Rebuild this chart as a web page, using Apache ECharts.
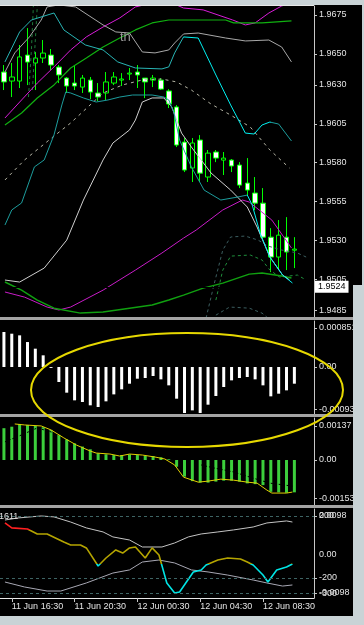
<!DOCTYPE html>
<html lang="en">
<head>
<meta charset="UTF-8">
<title>M30 chart</title>
<script src="https://cdn.jsdelivr.net/npm/echarts/dist/echarts.min.js"></script>
<style>
  html, body { margin: 0; padding: 0; background: #000; }
  #chart { width: 364px; height: 625px; }
</style>
</head>
<body>
<div id="chart"></div>
<script>
// bar times (two empty slots on the right = chart shift)
const times = ['11 Jun 16:00','11 Jun 16:30','11 Jun 17:00','11 Jun 17:30','11 Jun 18:00','11 Jun 18:30','11 Jun 19:00','11 Jun 19:30',
  '11 Jun 20:00','11 Jun 20:30','11 Jun 21:00','11 Jun 21:30','11 Jun 22:00','11 Jun 22:30','11 Jun 23:00','11 Jun 23:30',
  '12 Jun 00:00','12 Jun 00:30','12 Jun 01:00','12 Jun 01:30','12 Jun 02:00','12 Jun 02:30','12 Jun 03:00','12 Jun 03:30',
  '12 Jun 04:00','12 Jun 04:30','12 Jun 05:00','12 Jun 05:30','12 Jun 06:00','12 Jun 06:30','12 Jun 07:00','12 Jun 07:30',
  '12 Jun 08:00','12 Jun 08:30','12 Jun 09:00','12 Jun 09:30','12 Jun 10:00','12 Jun 10:30','12 Jun 11:00','12 Jun 11:30'];

// [open, close, low, high]
const ohlc = [
  [1.96383,1.96319,1.96267,1.96428],[1.96325,1.96351,1.96222,1.96441],[1.96325,1.96480,1.96280,1.96557],[1.96492,1.96447,1.96299,1.96666],
  [1.96441,1.96473,1.96267,1.96512],[1.96473,1.96505,1.96441,1.96589],[1.96492,1.96428,1.96396,1.96531],[1.96415,1.96364,1.96312,1.96428],
  [1.96344,1.96293,1.96248,1.96351],[1.96312,1.96293,1.96267,1.96428],[1.96286,1.96344,1.96248,1.96364],[1.96331,1.96254,1.96209,1.96351],
  [1.96248,1.96222,1.96196,1.96312],[1.96248,1.96319,1.96203,1.96383],[1.96312,1.96351,1.96299,1.96383],[1.96331,1.96338,1.96293,1.96376],
  [1.96370,1.96376,1.96331,1.96409],[1.96383,1.96364,1.96280,1.96428],[1.96344,1.96319,1.96215,1.96344],[1.96331,1.96344,1.96286,1.96364],
  [1.96331,1.96273,1.96267,1.96344],[1.96261,1.96177,1.96151,1.96273],[1.96158,1.95913,1.95900,1.96170],[1.95932,1.95752,1.95739,1.95958],
  [1.95765,1.95926,1.95675,1.95958],[1.95945,1.95732,1.95675,1.95977],[1.95707,1.95861,1.95675,1.95881],[1.95868,1.95829,1.95803,1.95881],
  [1.95816,1.95829,1.95720,1.95868],[1.95816,1.95778,1.95739,1.95823],[1.95784,1.95655,1.95636,1.95803],[1.95668,1.95623,1.95591,1.95829],
  [1.95604,1.95539,1.95494,1.95707],[1.95539,1.95320,1.95301,1.95636],[1.95320,1.95192,1.95095,1.95378],[1.95192,1.95333,1.95108,1.95430],
  [1.95320,1.95224,1.95108,1.95449],[1.95236,1.95243,1.95121,1.95320]
];
const bid = 1.9524;

// main window indicator lines: [bar index, price]
const magentaUp = [[0.13,1.96087],[2.25,1.96203],[4.25,1.96312],[6.38,1.96416],[8.5,1.96525],[10.5,1.96609],[12.63,1.96673],[14.75,1.96731],
  [16.75,1.96802],[19.5,1.96834],[21.38,1.96828],[22.88,1.96795],[25.38,1.96783],[29.13,1.96718],[30.75,1.96686],[32,1.96699],[33.75,1.96763],[35.38,1.96808],[36.88,1.96834]];
const magentaDn = [[0.13,1.94967],[2.63,1.94934],[5.5,1.94870],[7,1.94851],[8.5,1.94870],[12.63,1.94979],[16.75,1.95108],[20.13,1.95218],
  [22.88,1.95314],[24.5,1.95366],[27.88,1.95495],[30.38,1.95559],[31.25,1.95546],[34.13,1.95430],[36.63,1.95250]];
const greenUp = [[0.13,1.96042],[2.25,1.96119],[4.25,1.96216],[6.38,1.96300],[8.5,1.96409],[10.5,1.96474],[12.63,1.96544],[14.75,1.96602],
  [16.75,1.96654],[18.88,1.96699],[21,1.96718],[22.88,1.96718],[28.25,1.96718],[29.25,1.96699],[32.88,1.96699],[36.63,1.96712]];
const greenDn = [[0.13,1.95031],[2.25,1.94979],[4.25,1.94915],[6.38,1.94863],[9.75,1.94831],[12.63,1.94838],[16,1.94863],[18.88,1.94883],
  [21,1.94915],[22.88,1.94947],[25.38,1.94992],[27.88,1.95024],[31.25,1.95082],[32.88,1.95089],[35.38,1.95070],[36.63,1.95057]];
const greyUp = [[0.13,1.96383],[1.38,1.96506],[3.25,1.96609],[4.75,1.96718],[5.5,1.96802],[7,1.96815],[9.13,1.96802],[12.63,1.96686],
  [14.25,1.96641],[16,1.96634],[17.63,1.96512],[19.25,1.96506],[21,1.96525],[21.75,1.96570],[22.88,1.96628],[24.75,1.96634],[28.25,1.96602],
  [30.75,1.96583],[33.75,1.96589],[35.38,1.96544],[36.63,1.96448]];
const cyanUp = [[0.13,1.96448],[2,1.96641],[3.5,1.96718],[6.38,1.96763],[7.63,1.96654],[10.38,1.96557],[12.63,1.96525],[14.5,1.96448],
  [16.75,1.96409],[20.13,1.96403],[21,1.96416],[21.75,1.96506],[22.88,1.96609],[24.75,1.96602],[27,1.96364],[28.88,1.96171],[30.75,1.95990],
  [31.88,1.95984],[32.88,1.96042],[33.88,1.96061],[35,1.96048],[36.63,1.95939]];
const cyanDn = [[0.13,1.95398],[1,1.95495],[2.25,1.95540],[3.88,1.95772],[5.13,1.95817],[6.38,1.95978],[7.38,1.96171],[7.88,1.96255],
  [8.5,1.96248],[10.13,1.96216],[11.75,1.96190],[13.25,1.96203],[14.75,1.96222],[16.38,1.96235],[18.88,1.96235],[20.38,1.96222],[21,1.96203],
  [21.63,1.96126],[22.38,1.95945],[23.88,1.95772],[25.5,1.95623],[27.63,1.95559],[29.75,1.95578],[31,1.95591],[31.63,1.95527],[32.63,1.95346],
  [33.88,1.95192],[35.5,1.95076],[36.75,1.95025]];
const whiteDn = [[0.13,1.95044],[2,1.95031],[5.13,1.95121],[8,1.95301],[10.13,1.95559],[12.63,1.95817],[13.88,1.95926],[16,1.96010],
  [16.75,1.96074],[17.63,1.96190],[18.88,1.96216],[20.38,1.96216],[21.38,1.96158],[22.63,1.95990],[23.88,1.95900],[26.38,1.95733],
  [28.88,1.95623],[31,1.95514],[32.25,1.95385],[33.88,1.95192],[35.5,1.95076],[36.38,1.95044]];
const greyDash = [[0.13,1.95688],[2.63,1.95817],[5.75,1.95945],[8.5,1.96055],[12.63,1.96248],[15.13,1.96300],[17.63,1.96332],[20.13,1.96338],
  [22,1.96319],[23.88,1.96267],[26.38,1.96177],[28.88,1.96106],[31.38,1.96029],[33.88,1.95881],[36.38,1.95765]];
const envUpA = [[3.13,1.96222],[3.5,1.96525],[3.75,1.96808]];
const envUpB = [[3.63,1.96267],[4,1.96589],[4.25,1.96808]];
const envDnA = [[25.75,1.94799],[26.75,1.95012],[27.88,1.95237],[28.88,1.95321],[30.75,1.95327],[32.38,1.95301],[33.63,1.95263],
  [35.38,1.95237],[37.38,1.95218],[38.5,1.95192]];
const envDnB = [[27,1.94915],[27.88,1.95108],[28.88,1.95198],[31.38,1.95205],[32.88,1.95173],[33.88,1.95108],[35.13,1.95063],
  [37.38,1.95076],[38.5,1.95044]];
const envDnC = [[27,1.94818],[28.75,1.94870],[31.25,1.94863],[32.88,1.94831],[33.63,1.94799]];

// oscillator windows
const ao = [0.000764,0.000727,0.000691,0.000545,0.000400,0.000255,-0.00002,-0.000327,-0.000560,-0.000727,-0.000764,-0.000836,
  -0.000873,-0.000749,-0.000597,-0.000487,-0.000364,-0.000255,-0.000240,-0.000196,-0.000269,-0.000400,-0.000691,-0.001004,
  -0.000946,-0.001004,-0.000822,-0.000633,-0.000436,-0.000291,-0.000240,-0.000218,-0.000269,-0.000400,-0.000640,-0.000582,-0.000509,-0.000364];
const macd = [0.00128,0.00134,0.00145,0.00141,0.00137,0.00132,0.00121,0.00101,0.00083,0.00067,0.00054,0.00043,0.00027,0.00023,
  0.00020,0.00020,0.00023,0.00020,0.00017,0.00016,0.00011,0.00003,-0.00027,-0.00067,-0.00085,-0.00091,-0.00091,-0.00087,-0.00083,
  -0.00083,-0.00087,-0.00094,-0.00097,-0.00101,-0.00128,-0.00130,-0.00132,-0.00130];
const macdSignal = [[1.38,0.00145],[2.63,0.00141],[4.75,0.00137],[6,0.00121],[7.63,0.00089],[9.25,0.00060],[11,0.00036],[11.75,0.00028],
  [13.5,0.00024],[14.75,0.00016],[16,0.00024],[17.63,0.00020],[19.25,0.00012],[20.5,0.00004],[21.75,-0.00020],[22.88,-0.00069],
  [24.75,-0.00089],[26,-0.00085],[27.63,-0.00077],[29.25,-0.00081],[31,-0.00089],[32.25,-0.00093],[33.5,-0.00121],[34.13,-0.00133],
  [36,-0.00133],[36.75,-0.00129]];
const macdDarkA = [[0.13,0.00073],[2.25,0.00101],[4.25,0.00129],[6,0.00113],[7.5,0.00095]];
const macdDarkB = [[25.13,-0.00020],[26.75,-0.00032],[29.25,-0.00048],[31.75,-0.00073],[33.88,-0.00093],[36.75,-0.00105]];
const cci = [[0.13,155],[1,123],[3,116],[4.25,84],[5.5,84],[7.63,32],[8.5,13],[9.75,13],[10.5,-6],[12,-123],[13,-71],[14.25,-19],
  [15.13,-39],[16,-6],[16.75,0],[18,-71],[18.88,-6],[19.75,-52],[20.75,-232],[21.75,-297],[22.38,-290],[23.25,-226],[24.13,-161],
  [25.13,-148],[25.75,-116],[27.25,-84],[28.5,-71],[30.13,-77],[31,-97],[31.75,-116],[33,-181],[33.63,-226],[34.75,-148],[36,-129],[36.75,-110]];
const cciBandUp = [[0.13,174],[1.75,187],[4.75,200],[6.38,194],[8.5,161],[10.5,123],[12.63,97],[13.88,65],[16,45],[17.63,0],[20.13,0],
  [21.75,26],[23.5,65],[25.13,84],[27.25,97],[29.25,110],[31.75,129],[33.5,155],[36,168],[36.75,161]];
const cciBandDn = [[0.13,-226],[2.63,-258],[5.5,-284],[7.25,-284],[10.5,-232],[13.88,-168],[16,-148],[17.63,-97],[19.75,-84],[21.75,-103],
  [23.88,-148],[26,-161],[28.5,-181],[31.75,-213],[33.5,-232],[35.5,-252],[36.75,-245]];
const cciLevels = [200, -200, -300];

// scale labels
const priceTicks = [1.9675, 1.9650, 1.9630, 1.9605, 1.9580, 1.9555, 1.9530, 1.9505, 1.9485];
const aoTicks = [0.000851, 0, -0.00093];
const aoLabels = ['0.000851', '0.00', '-0.00093'];
const macdTicks = [0.00137, 0, -0.00153];
const macdLabels = ['0.00137', '0.00', '-0.00153'];
const cciTicks = [200, -200, -300];
const cciLabels = ['200', '-200', '-300'];
const auxTicks = [0.0098, 0, -0.0098];
const auxLabels = ['0.0098', '0.00', '-0.0098'];

const FONT = 'Liberation Sans';
const txt = '#e4e4e4';
const axc = '#c8c8c8';
const chrome = '#c9d3d6';

function fmt(ticks, labels) {
  return function (v) {
    const k = ticks.findIndex(t => Math.abs(t - v) < 1e-7);
    return k >= 0 ? labels[k] : '';
  };
}

function yAx(gridIndex, min, max, ticks, labels, line) {
  return {
    type: 'value', gridIndex, position: 'right', min, max,
    splitLine: { show: false },
    axisLine: { show: line, onZero: false, lineStyle: { color: axc } },
    axisTick: { show: line, customValues: ticks, length: 3, lineStyle: { color: axc } },
    axisLabel: { customValues: ticks, formatter: fmt(ticks, labels), color: txt, fontSize: 9, fontFamily: FONT, margin: 5 }
  };
}

const catX = (gridIndex) => ({ type: 'category', gridIndex, data: times, boundaryGap: true, show: false, axisLine: { onZero: false } });
const valX = (gridIndex) => ({ type: 'value', gridIndex, min: -0.5, max: 39.5, show: false, axisLine: { onZero: false }, splitLine: { show: false } });

const showTime = (i) => i % 8 === 1;

const xAxis = [
  catX(0), valX(0), catX(1), catX(2), valX(2),
  {
    type: 'category', gridIndex: 3, data: times, boundaryGap: true,
    axisLine: { show: true, onZero: false, lineStyle: { color: '#e8e8e8' } },
    axisTick: { show: true, alignWithLabel: true, interval: showTime, length: 4, lineStyle: { color: axc } },
    axisLabel: { interval: showTime, align: 'left', color: txt, fontSize: 9, fontFamily: FONT, margin: 4 }
  },
  valX(3)
];

const yAxis = [
  yAx(0, 1.94806, 1.96808, priceTicks, priceTicks.map(v => v.toFixed(4)), true),
  yAx(1, -0.001047, 0.001004, aoTicks, aoLabels, true),
  yAx(2, -0.00181, 0.00169, macdTicks, macdLabels, true),
  yAx(3, -329, 245, cciTicks, cciLabels, true),
  yAx(3, -0.01107, 0.01158, auxTicks, auxLabels, false)
];

const series = [];
series.push({
  type: 'candlestick', xAxisIndex: 0, yAxisIndex: 0, data: ohlc, barWidth: 5,
  itemStyle: { color: '#000', color0: '#fff', borderColor: '#00ff00', borderColor0: '#00ff00', borderWidth: 1 },
  markLine: {
    silent: true, symbol: ['none', 'none'],
    lineStyle: { color: '#000', width: 1, type: 'solid' },
    label: { position: 'end', distance: 1, formatter: bid.toFixed(4), backgroundColor: '#fff', color: '#000',
      fontSize: 9, fontFamily: FONT, padding: [2, 3, 1, 3] },
    data: [{ yAxis: bid }]
  }
});

// color == null -> colour comes from a visualMap
function line(xi, yi, data, color, width, type) {
  const style = { width: width || 1, type: type || 'solid' };
  if (color) style.color = color;
  series.push({ type: 'line', xAxisIndex: xi, yAxisIndex: yi, data, symbol: 'none', silent: true, lineStyle: style });
  return series.length - 1;
}

line(1, 0, envUpA, '#1e7a3a', 1, [3, 3]);
line(1, 0, envUpB, '#1e7a3a', 1, [3, 3]);
line(1, 0, envDnA, '#3c5e60', 1, [3, 3]);
line(1, 0, envDnB, '#1f8f3c', 1, [3, 3]);
line(1, 0, envDnC, '#3c5e60', 1, [3, 3]);
line(1, 0, greyDash, '#b4b4a4', 1, [3, 4]);
line(1, 0, magentaUp, '#d81cd8');
line(1, 0, magentaDn, '#c81cc8');
line(1, 0, greenUp, '#10b010', 1.2);
line(1, 0, greenDn, '#10a010', 1.5);
line(1, 0, greyUp, '#a8a8a8');
line(1, 0, whiteDn, '#d0d0d0');
const cUp = line(1, 0, cyanUp, null);
const cDn = line(1, 0, cyanDn, null);

series.push({ type: 'bar', xAxisIndex: 2, yAxisIndex: 1, data: ao, barWidth: 3, itemStyle: { color: '#ffffff' }, silent: true });
series.push({ type: 'bar', xAxisIndex: 3, yAxisIndex: 2, data: macd, barWidth: 3, itemStyle: { color: '#3ccf3c' }, silent: true });
line(4, 2, macdDarkA, '#000', 1, [2, 2]);
line(4, 2, macdDarkB, '#000', 1, [2, 2]);
line(4, 2, macdSignal, '#e0d000', 1);

const lv = line(6, 3, cciBandDn, '#a8a8b4');
series[lv].markLine = {
  silent: true, symbol: ['none', 'none'], label: { show: false },
  lineStyle: { color: '#3e6464', width: 1, type: [3, 3] },
  data: cciLevels.map(v => ({ yAxis: v }))
};
line(6, 3, cciBandUp, '#c4c4c4');
const cciIdx = line(6, 3, cci, null, 1.6);

const option = {
  backgroundColor: '#000',
  animation: false,
  grid: [
    { left: -5, top: 6, width: 319, height: 311 },
    { left: -5, top: 321, width: 319, height: 94 },
    { left: -5, top: 418, width: 319, height: 87 },
    { left: -5, top: 509, width: 319, height: 89 }
  ],
  xAxis, yAxis, series,
  visualMap: [
    { type: 'piecewise', show: false, seriesIndex: cUp, dimension: 0,
      pieces: [{ lt: 22.8, color: '#28b4b4' }, { gte: 22.8, lte: 34, color: '#00f0f0' }, { gt: 34, color: '#1c9c9c' }] },
    { type: 'piecewise', show: false, seriesIndex: cDn, dimension: 0,
      pieces: [{ lt: 31, color: '#1c9c9c' }, { gte: 31, lte: 45, color: '#00f0f0' }, { gt: 45, color: '#00f0f0' }] },
    { type: 'piecewise', show: false, seriesIndex: cciIdx, dimension: 1,
      pieces: [{ gt: 110, color: '#ff2020' }, { lt: -112, color: '#00e4e4' }, { gte: -112, lte: 110, color: '#b4a400' }] }
  ],
  graphic: [
    { type: 'rect', silent: true, z: 90, shape: { x: 0, y: 0, width: 364, height: 5 }, style: { fill: chrome } },
    { type: 'rect', silent: true, z: 90, shape: { x: 0, y: 5, width: 314, height: 1 }, style: { fill: '#e8e8e8' } },
    { type: 'rect', silent: true, z: 90, shape: { x: 0, y: 317, width: 364, height: 3 }, style: { fill: '#a4a4a4' } },
    { type: 'rect', silent: true, z: 90, shape: { x: 0, y: 414, width: 364, height: 3 }, style: { fill: '#a4a4a4' } },
    { type: 'rect', silent: true, z: 90, shape: { x: 0, y: 505, width: 364, height: 3 }, style: { fill: '#a4a4a4' } },
    { type: 'rect', silent: true, z: 90, shape: { x: 0, y: 616, width: 364, height: 9 }, style: { fill: chrome } },
    { type: 'rect', silent: true, z: 90, shape: { x: 362, y: 0, width: 2, height: 625 }, style: { fill: chrome } },
    { type: 'rect', silent: true, z: 90, shape: { x: 353, y: 285, width: 11, height: 340 }, style: { fill: chrome } },
    { type: 'text', silent: true, z: 60, style: { text: 'th', x: 120, y: 31, fill: '#9a9a9a', fontSize: 13, fontFamily: FONT } },
    { type: 'text', silent: true, z: 60, style: { text: '1611', x: -1, y: 512, fill: '#e0e0e0', fontSize: 9, fontFamily: FONT } },
    { type: 'ellipse', silent: true, z: 100, shape: { cx: 187, cy: 390, rx: 156, ry: 57 },
      style: { fill: 'none', stroke: '#e6d800', lineWidth: 2 } }
  ]
};

const myChart = echarts.init(document.getElementById('chart'));
myChart.setOption(option);
</script>
</body>
</html>
